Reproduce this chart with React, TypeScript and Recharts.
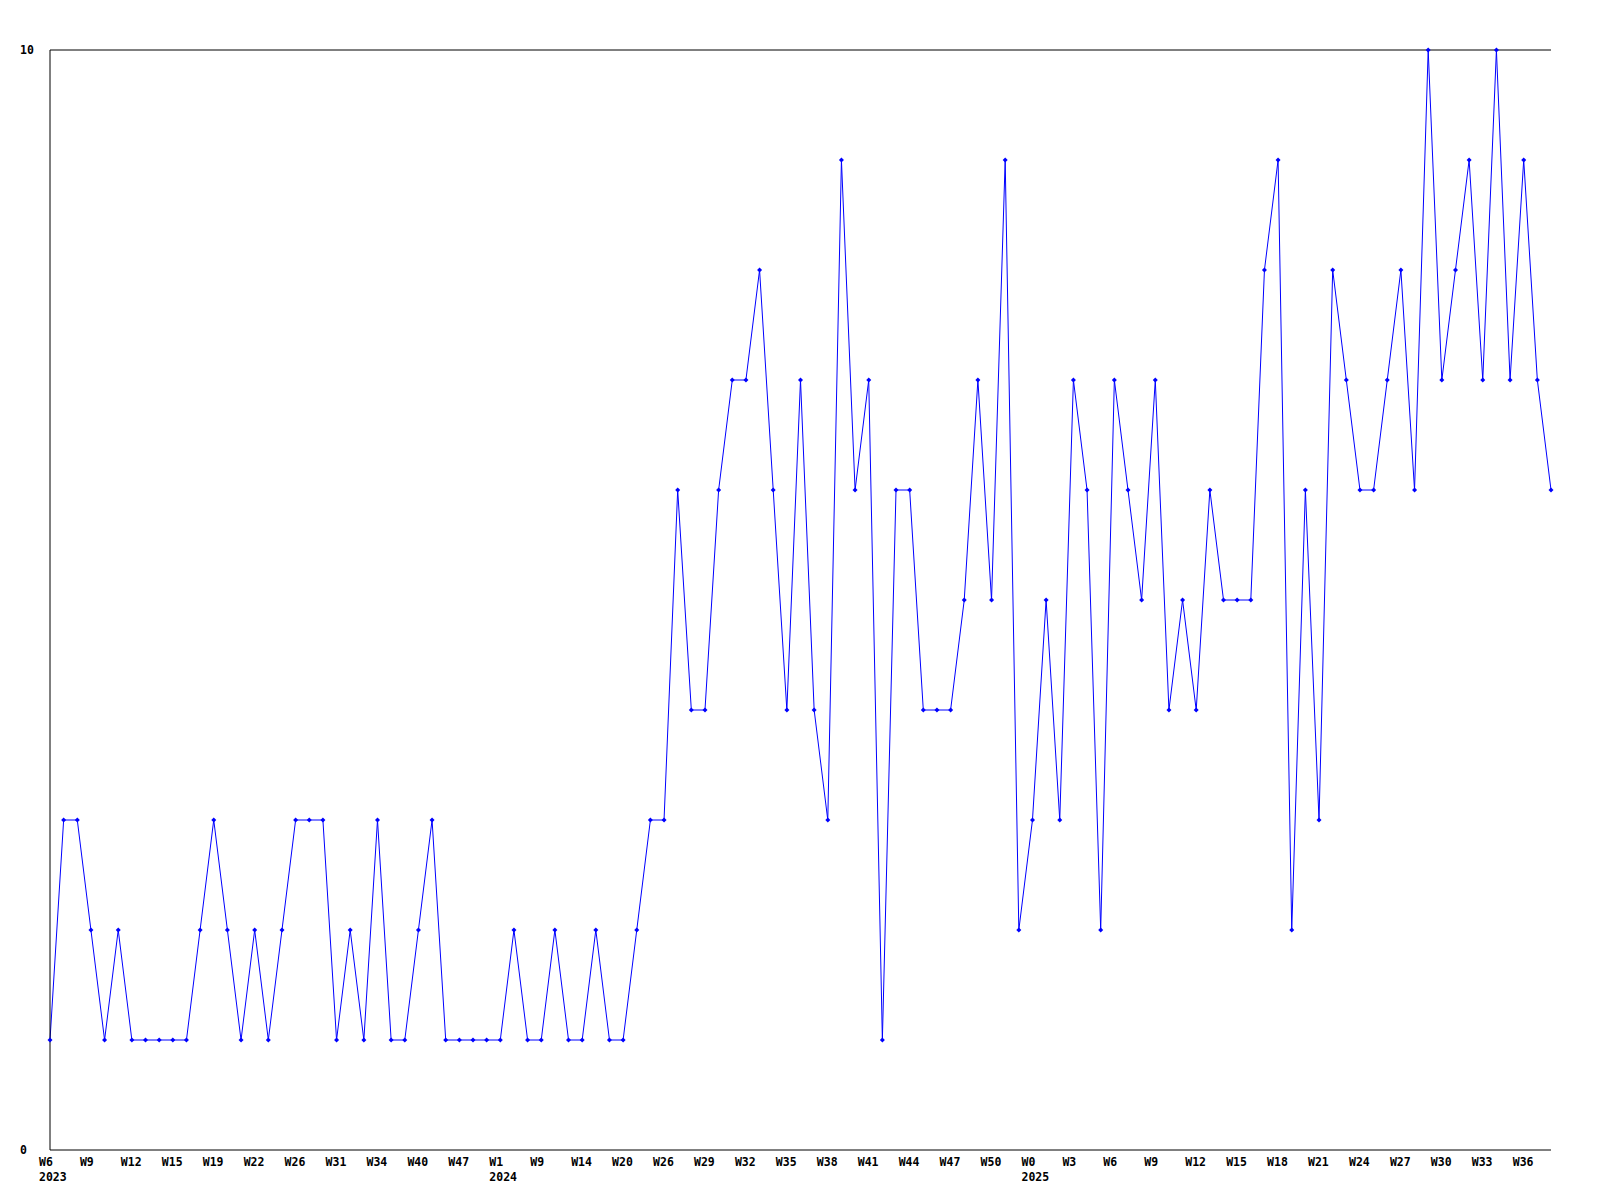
import { LineChart, Line, XAxis, YAxis, ReferenceLine } from "recharts";

// weeks that have data, per year
const weeks2023 = [6, 7, 8, 9, 10, 11, 12, 13, 14, 15, 16, 17, 19, 20, 21, 22, 23, 25, 26, 27, 29, 31, 32, 33, 34, 36, 38, 40, 42, 44, 47, 49, 51];
const weeks2024 = [1, 4, 6, 9, 11, 12, 14, 16, 18, 20, 22, 24, 26, 27, 28, 29, 30, 31, 32, 33, 34, 35, 36, 37, 38, 39, 40, 41, 42, 43, 44, 45, 46, 47, 48, 49, 50, 51, 52];
const weeks2025 = [0, 1, 2, 3, 4, 5, 6, 7, 8, 9, 10, 11, 12, 13, 14, 15, 16, 17, 18, 19, 20, 21, 22, 23, 24, 25, 26, 27, 28, 29, 30, 31, 32, 33, 34, 35, 36, 37, 38];

const values2023 = [1, 3, 3, 2, 1, 2, 1, 1, 1, 1, 1, 2, 3, 2, 1, 2, 1, 2, 3, 3, 3, 1, 2, 1, 3, 1, 1, 2, 3, 1, 1, 1, 1];
const values2024 = [1, 2, 1, 1, 2, 1, 1, 2, 1, 1, 2, 3, 3, 6, 4, 4, 6, 7, 7, 8, 6, 4, 7, 4, 3, 9, 6, 7, 1, 6, 6, 4, 4, 4, 5, 7, 5, 9, 2];
const values2025 = [3, 5, 3, 7, 6, 2, 7, 6, 5, 7, 4, 5, 4, 6, 5, 5, 5, 8, 9, 2, 6, 3, 8, 7, 6, 6, 7, 8, 6, 10, 7, 8, 9, 7, 10, 7, 9, 7, 6];

const yTicks = [0, 10];

const years = [
  { year: "2023", weeks: weeks2023, values: values2023 },
  { year: "2024", weeks: weeks2024, values: values2024 },
  { year: "2025", weeks: weeks2025, values: values2025 },
];

const data = years.flatMap((y) =>
  y.weeks.map((w, i) => ({
    key: `${y.year}-W${w}`,
    week: `W${w}`,
    year: i === 0 ? y.year : "",
    count: y.values[i],
  }))
);

const FONT = "'DejaVu Sans Mono', monospace";

const WeekTick = (props: any) => {
  const { x, y, payload } = props;
  const row = data[payload.index];
  if (!row) return null;
  return (
    <g>
      <text x={x - 11} y={y + 4} textAnchor="start" dominantBaseline="central" fontFamily={FONT} fontWeight="bold" fontSize={11.5} fill="#000">
        {row.week}
      </text>
      {row.year && (
        <text x={x - 11} y={y + 19} textAnchor="start" dominantBaseline="central" fontFamily={FONT} fontWeight="bold" fontSize={11.5} fill="#000">
          {row.year}
        </text>
      )}
    </g>
  );
};

const ValueTick = (props: any) => {
  const { y, payload } = props;
  return (
    <text x={12} y={y} textAnchor="start" dominantBaseline="central" fontFamily={FONT} fontWeight="bold" fontSize={11.5} fill="#000">
      {payload.value}
    </text>
  );
};

const Marker = (props: any) => {
  const { cx, cy, index } = props;
  if (cx == null || cy == null) return <g key={index} />;
  return (
    <path
      key={index}
      d={`M${cx} ${cy - 2.5}L${cx + 2.5} ${cy}L${cx} ${cy + 2.5}L${cx - 2.5} ${cy}Z`}
      fill="#0000ff"
      stroke="none"
    />
  );
};

export default function App() {
  return (
    <div style={{ width: 1584, height: 1184, background: "#fff" }}>
      <LineChart width={1584} height={1184} data={data} margin={{ top: 42, right: 41, left: 0, bottom: 0 }}>
        <XAxis
          dataKey="key"
          interval={2}
          height={42}
          tickLine={false}
          axisLine={{ stroke: "#000", strokeWidth: 1 }}
          tick={<WeekTick />}
          padding={{ left: 0, right: 0 }}
        />
        <YAxis
          domain={[0, 10]}
          ticks={yTicks}
          width={42}
          tickLine={false}
          axisLine={{ stroke: "#000", strokeWidth: 1 }}
          tick={<ValueTick />}
        />
        <ReferenceLine y={10} stroke="#000" strokeWidth={1} />
        <Line
          type="linear"
          dataKey="count"
          stroke="#0000ff"
          strokeWidth={1}
          dot={Marker}
          activeDot={false}
          isAnimationActive={false}
        />
      </LineChart>
    </div>
  );
}
